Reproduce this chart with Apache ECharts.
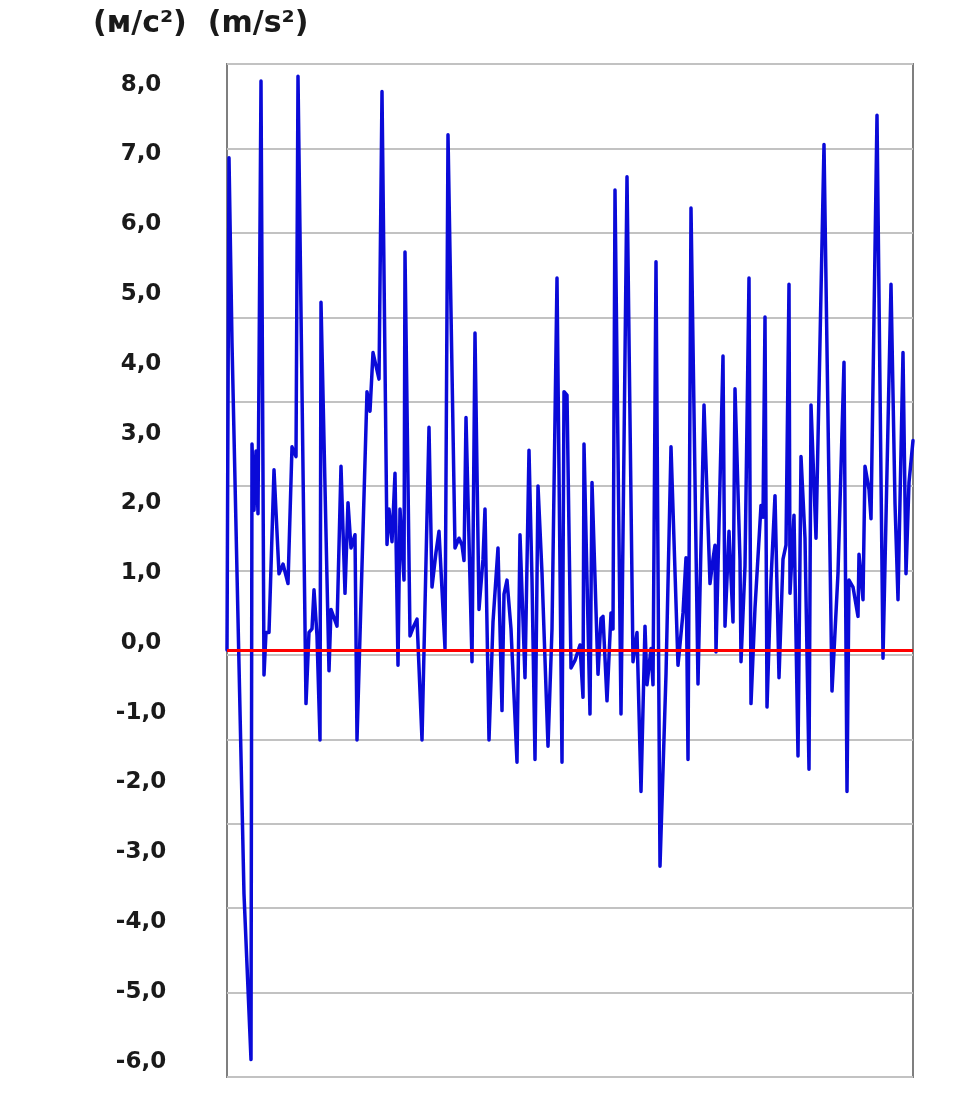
<!DOCTYPE html>
<html>
<head>
<meta charset="utf-8">
<script src="https://cdn.jsdelivr.net/npm/echarts@6/dist/echarts.min.js"></script>
<style>
html,body{margin:0;padding:0;background:#fff;}
#chart{width:978px;height:1097px;}
</style>
</head>
<body>
<div id="chart"></div>
<script>
// Sample positions (sample index along the record)
const samples = [
  0,2,5,17,24,25,27,29,31,34,
  37,39,42,47,52,56,61,65,69,71,
  79,82,85,87,90,93,94,102,104,110,
  114,118,121,124,128,130,140,143,146,149,
  152,155,160,162,165,168,171,173,177,178,
  183,187,190,195,202,205,209,212,218,221,
  228,232,235,237,239,245,248,252,256,258,
  262,266,271,275,277,280,284,290,293,298,
  302,305,308,311,315,321,325,330,335,337,
  340,344,348,353,356,357,363,365,371,374,
  376,380,384,386,388,394,400,406,410,414,
  418,420,424,426,429,433,439,444,451,456,
  459,461,464,471,477,483,486,488,489,496,
  498,502,506,508,513,514,518,522,524,528,
  534,536,538,540,544,548,552,556,559,562,
  563,567,571,574,578,582,584,589,597,605,
  611,617,620,622,626,631,632,636,638,642,
  644,650,656,664,668,671,676,679,682,686
];
// Acceleration values, m/s²
const accel = [
  -0.1,6.95,4.3,-3.6,-5.97,2.85,1.9,2.75,1.85,8.05,
  -0.46,0.15,0.15,2.48,0.99,1.13,0.85,2.81,2.67,8.12,
  -0.87,0.15,0.2,0.76,0.1,-1.39,4.88,-0.4,0.48,0.24,
  2.53,0.71,2.01,1.36,1.55,-1.39,3.6,3.32,4.16,3.97,
  3.78,7.9,1.41,1.92,1.45,2.43,-0.32,1.92,0.9,5.6,
  0.1,0.25,0.34,-1.39,3.09,0.8,1.3,1.6,-0.08,7.28,
  1.36,1.5,1.4,1.18,3.23,-0.27,4.44,0.48,1.2,1.92,
  -1.39,0.3,1.36,-0.97,0.7,0.9,0.2,-1.71,1.55,-0.5,
  2.76,0.9,-1.67,2.25,1.0,-1.48,0.2,5.23,-1.71,3.6,
  3.55,-0.36,-0.25,-0.03,-0.78,2.85,-1.02,2.3,-0.45,0.35,
  0.38,-0.83,0.43,0.2,6.49,-1.02,6.68,-0.27,0.15,-2.13,
  0.24,-0.6,-0.08,-0.6,5.46,-3.2,-0.45,2.81,-0.32,0.43,
  1.22,-1.67,6.23,-0.59,3.41,0.85,1.2,1.4,-0.13,4.11,
  0.24,1.6,0.3,3.64,1.18,-0.27,1.1,5.23,-0.87,0.5,
  1.97,1.8,4.67,-0.92,0.9,2.11,-0.5,1.2,1.4,5.14,
  0.71,1.83,-1.62,2.67,1.5,-1.81,3.41,1.5,7.14,-0.69,
  1.0,4.02,-2.13,0.9,0.8,0.38,1.27,0.62,2.53,2.2,
  1.78,7.56,-0.22,5.14,2.0,0.62,4.16,0.99,2.3,2.9
];
// Y tick labels
const yTicks = [-6,-5,-4,-3,-2,-1,0,1,2,3,4,5,6,7,8];
const titleText = '(м/с²)  (m/s²)';
const baseline = -0.1;

const chart = echarts.init(document.getElementById('chart'));
const seriesData = samples.map((s, i) => [s, accel[i]]);
chart.setOption({
  animation: false,
  backgroundColor: '#ffffff',
  title: {
    text: titleText,
    left: 88, top: 4,
    textStyle: {fontFamily: 'DejaVu Sans', fontSize: 30, fontWeight: 'bold', color: '#1a1a1a'}
  },
  grid: {left: 227, right: 65, top: 64, bottom: 20, show: true, borderColor: '#7f7f7f', borderWidth: 2, backgroundColor: 'transparent'},
  xAxis: {type: 'value', min: 0, max: 686, axisLine: {show: false}, axisTick: {show: false}, axisLabel: {show: false}, splitLine: {show: false}},
  yAxis: [
    {type: 'value', min: -6.22, max: 8.295,
      axisLine: {show: false}, axisTick: {show: false}, splitLine: {show: false},
      axisLabel: {customValues: yTicks, align: 'center', margin: 86,
        fontFamily: 'DejaVu Sans', fontSize: 23, fontWeight: 'bold', color: '#1a1a1a',
        formatter: v => v.toFixed(1).replace('.', ',')}},
    {type: 'value', min: 0, max: 12, interval: 1, position: 'left',
      axisLine: {show: false}, axisTick: {show: false}, axisLabel: {show: false},
      splitLine: {show: true, lineStyle: {color: '#c2c2c2', width: 2}}}
  ],
  series: [
    {type: 'line', yAxisIndex: 0, data: seriesData, showSymbol: false, symbol: 'none',
      lineStyle: {color: '#0a0ad8', width: 3.5, join: 'round', cap: 'round'}, z: 3},
    {type: 'line', yAxisIndex: 0, data: [], z: 5,
      markLine: {silent: true, symbol: 'none', label: {show: false},
        lineStyle: {color: '#ff0000', width: 3, type: 'solid'},
        data: [{yAxis: baseline}]}}
  ]
});
</script>
</body>
</html>
